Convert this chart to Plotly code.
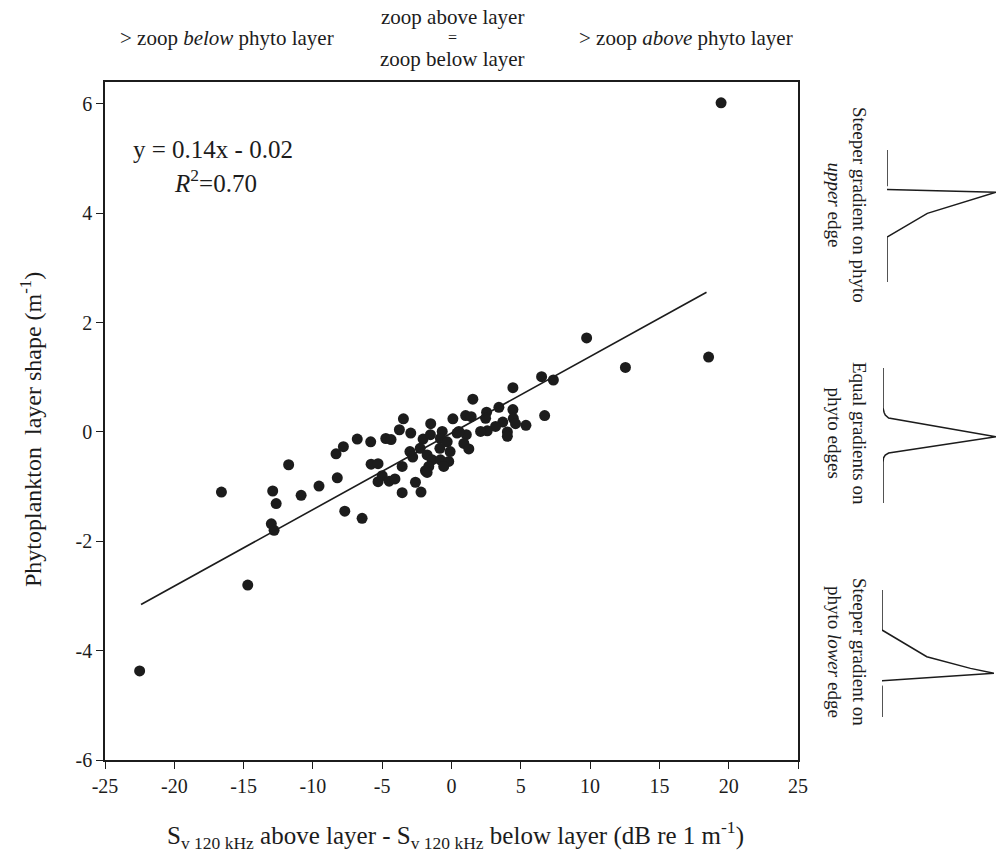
import plotly.graph_objects as go

# Zooplankton vertical asymmetry vs phytoplankton layer shape
sv_diff = [
    -22.5, -16.6, -14.7, -12.9, -12.65, -13.0, -12.8, -11.75, -10.85, -9.56,
    -8.24, -8.33, -7.8, -7.7, -6.8, -6.45, -5.83, -5.8, -5.3, -4.74,
    -4.36, -3.47, -3.76, -2.94, -5.0, -5.3, -4.5, -4.08, -3.56, -2.6,
    -2.2, -3.56, -3.0, -1.5, 1.54, 0.1, 1.02, 1.42, -2.05, -1.52,
    -0.67, 0.4, 1.07, 0.53, -0.8, -0.31, 0.89, 1.25, -0.1, -0.84,
    -2.26, -2.8, -1.76, -1.4, -0.8, -0.2, -0.56, -1.64, -1.88, -1.76,
    2.53, 2.46, 3.42, 4.43, 4.43, 6.5, 7.35, 6.72, 4.46, 3.7,
    4.62, 5.37, 3.18, 4.03, 4.03, 2.58, 2.1, 9.75, 12.55, 18.55,
    19.45,
]
layer_shape = [
    -4.37, -1.10, -2.80, -1.08, -1.31, -1.68, -1.80, -0.60, -1.16, -0.99,
    -0.84, -0.40, -0.27, -1.45, -0.13, -1.58, -0.18, -0.59, -0.58, -0.12,
    -0.14, 0.24, 0.04, -0.02, -0.80, -0.91, -0.90, -0.86, -1.11, -0.92,
    -1.10, -0.63, -0.36, 0.15, 0.60, 0.24, 0.30, 0.28, -0.13, -0.05,
    0.01, -0.02, -0.05, 0.01, -0.12, -0.18, -0.21, -0.31, -0.36, -0.30,
    -0.30, -0.46, -0.42, -0.51, -0.51, -0.54, -0.63, -0.63, -0.71, -0.74,
    0.36, 0.25, 0.45, 0.41, 0.81, 1.01, 0.95, 0.30, 0.25, 0.18,
    0.15, 0.12, 0.10, 0.00, -0.08, 0.02, 0.01, 1.72, 1.18, 1.37,
    6.02,
]

# Regression y = 0.14x - 0.02 drawn over the fitted range
SLOPE = 0.14
INTERCEPT = -0.02
FIT_X_RANGE = [-22.4, 18.4]

x_ticks = [-25, -20, -15, -10, -5, 0, 5, 10, 15, 20, 25]
y_ticks = [-6, -4, -2, 0, 2, 4, 6]

# Schematic phytoplankton profiles: (relative intensity, relative depth)
profile_upper_int = [0, 0, -0.02, -0.03, 0.0, 1.0, 0.37, 0, 0]
profile_upper_depth = [0, 0.27, 0.28, 0.29, 0.30, 0.32, 0.48, 0.66, 1.0]
profile_equal_int = [0, 0, 0.01, 0.02, 0.05, 1.0, 0.05, 0.02, 0.005, 0, 0]
profile_equal_depth = [0, 0.296, 0.33, 0.348, 0.37, 0.51, 0.63, 0.645, 0.665, 0.70, 1.0]
profile_lower_int = [0, 0, 0.40, 0.79, 1.0, 0.0, -0.015, -0.01, 0, 0]
profile_lower_depth = [0, 0.315, 0.525, 0.617, 0.656, 0.714, 0.73, 0.745, 0.761, 1.0]

W, H = 996, 861
FONT = "Liberation Serif, Times New Roman, serif"
INK = "#1c1c1c"


def px_x(p):
    return p / W


def px_y(p):
    return 1 - p / H


def hyphen(v):
    return str(v).replace("\u2212", "-")


fig = go.Figure()

fig.add_trace(go.Scatter(
    x=sv_diff, y=layer_shape, mode="markers",
    marker=dict(size=11, color=INK, line=dict(width=0)),
    showlegend=False, hoverinfo="x+y",
))

fit_y = [SLOPE * v + INTERCEPT for v in FIT_X_RANGE]
fig.add_trace(go.Scatter(
    x=FIT_X_RANGE, y=fit_y, mode="lines",
    line=dict(color=INK, width=1.6),
    showlegend=False, hoverinfo="skip",
))

# Profile insets on the right
profiles = [
    (profile_upper_int, profile_upper_depth, 150, 282, 887, 996),
    (profile_equal_int, profile_equal_depth, 368, 503, 883, 996),
    (profile_lower_int, profile_lower_depth, 590, 717, 882, 994),
]
for i, (pi, pd, top, bot, x0, x1) in enumerate(profiles, start=2):
    fig.add_trace(go.Scatter(
        x=pi, y=pd, mode="lines", xaxis=f"x{i}", yaxis=f"y{i}",
        line=dict(color=INK, width=1.5),
        showlegend=False, hoverinfo="skip", cliponaxis=False,
    ))
    fig.update_layout(**{
        f"xaxis{i}": dict(domain=[px_x(x0), px_x(x1)], range=[0, 1],
                          visible=False, anchor=f"y{i}", fixedrange=True,
                          automargin=False),
        f"yaxis{i}": dict(domain=[px_y(bot), px_y(top)], range=[1, 0],
                          visible=False, anchor=f"x{i}", fixedrange=True,
                          automargin=False),
    })

axis_common = dict(
    showgrid=False, zeroline=False, showline=True, linecolor=INK,
    linewidth=1.5, mirror=True, ticks="outside", ticklen=7, tickwidth=1.2,
    tickcolor=INK, tickfont=dict(family=FONT, size=20, color=INK),
    automargin=False,
)

fig.update_layout(
    width=W, height=H,
    margin=dict(l=0, r=0, t=0, b=0, pad=0, autoexpand=False),
    paper_bgcolor="white", plot_bgcolor="white",
    font=dict(family=FONT, color=INK),
    xaxis=dict(axis_common, domain=[px_x(105), px_x(798)], range=[-25, 25],
               tickvals=x_ticks, ticktext=[hyphen(v) for v in x_ticks],
               anchor="y"),
    yaxis=dict(axis_common, domain=[px_y(760), px_y(82)], range=[-6, 6.4],
               tickvals=y_ticks, ticktext=[hyphen(v) for v in y_ticks],
               anchor="x"),
)

annotations = [
    # axis titles
    dict(x=px_x(455), y=px_y(835),
         text="S<sub>v 120 kHz</sub> above layer - S<sub>v 120 kHz</sub> below layer (dB re 1 m<sup>-1</sup>)",
         size=25),
    dict(x=px_x(31), y=px_y(430), textangle=-90,
         text="Phytoplankton  layer shape (m<sup>-1</sup>)", size=24),
    # header labels
    dict(x=px_x(227), y=px_y(38), text="&gt; zoop <i>below</i> phyto layer", size=21),
    dict(x=px_x(452), y=px_y(17), text="zoop above layer", size=21),
    dict(x=px_x(452), y=px_y(38), text="=", size=16),
    dict(x=px_x(452), y=px_y(59), text="zoop below layer", size=21),
    dict(x=px_x(686), y=px_y(38), text="&gt; zoop <i>above</i> phyto layer", size=21),
    # regression equation
    dict(x=px_x(213), y=px_y(149), text="y = 0.14x - 0.02", size=25),
    dict(x=px_x(215), y=px_y(181), text="<i>R</i><sup>2</sup>=0.70", size=25),
    # profile captions
    dict(x=px_x(847), y=px_y(205), textangle=90,
         text="Steeper gradient on phyto<br><i>upper</i> edge", size=19),
    dict(x=px_x(847), y=px_y(433), textangle=90,
         text="Equal gradients on<br>phyto edges", size=19),
    dict(x=px_x(847), y=px_y(652), textangle=90,
         text="Steeper gradient on<br>phyto <i>lower</i> edge", size=19),
]
for a in annotations:
    size = a.pop("size")
    fig.add_annotation(
        xref="paper", yref="paper", showarrow=False,
        xanchor="center", yanchor="middle",
        font=dict(family=FONT, color=INK, size=size), **a,
    )

fig.write_html("out.html")
